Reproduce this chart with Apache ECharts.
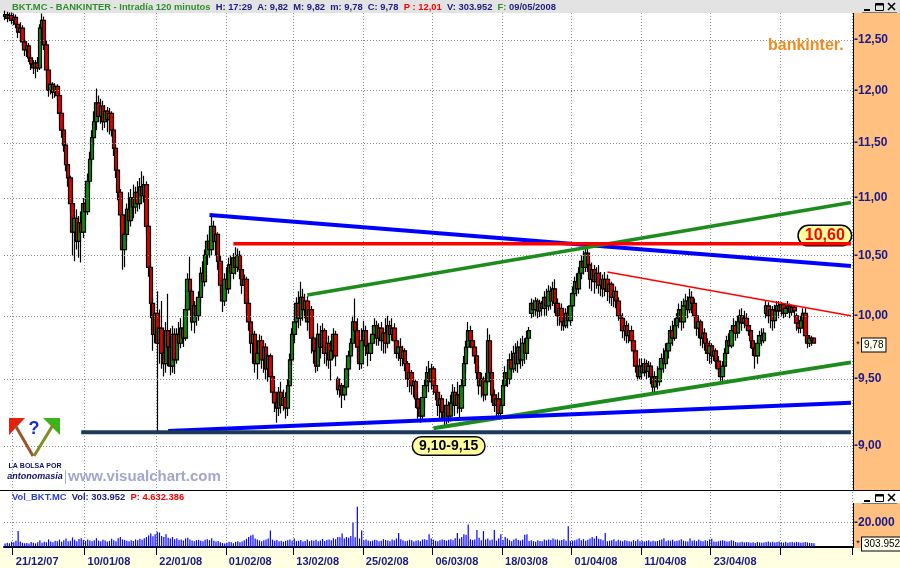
<!DOCTYPE html>
<html><head><meta charset="utf-8">
<script src="https://cdn.jsdelivr.net/npm/echarts@6/dist/echarts.min.js"></script>
<style>html,body{margin:0;padding:0;background:#fff}#c{width:900px;height:568px}</style>
</head><body><div id="c"></div><script>
// ---- data (OHLC: open, close, low, high) ----
const candles = [
[12.74,12.76,12.70,12.80],[12.76,12.72,12.68,12.79],[12.72,12.75,12.69,12.78],[12.75,12.70,12.66,12.78],[12.70,12.73,12.65,12.77],
[12.73,12.66,12.62,12.76],[12.66,12.58,12.52,12.70],[12.58,12.62,12.50,12.68],[12.62,12.48,12.44,12.65],[12.48,12.40,12.34,12.52],
[12.40,12.44,12.33,12.49],[12.44,12.32,12.28,12.47],[12.32,12.26,12.20,12.36],[12.26,12.22,12.16,12.30],[12.22,12.27,12.12,12.30],
[12.27,12.22,12.18,12.33],[12.22,12.62,12.20,12.66],[12.62,12.70,12.50,12.77],[12.70,12.45,12.40,12.74],[12.45,12.20,12.12,12.50],
[12.20,12.00,11.94,12.24],[12.00,12.06,11.96,12.10],[12.06,11.98,11.92,12.08],[11.98,12.04,11.93,12.07],[12.04,11.95,11.90,12.06],
[11.95,11.78,11.72,11.98],[11.78,11.62,11.55,11.82],[11.62,11.48,11.42,11.66],[11.48,11.30,11.24,11.52],[11.30,11.18,11.10,11.34],
[11.18,10.95,10.88,11.20],[10.95,10.70,10.50,10.98],[10.70,10.82,10.45,10.86],[10.82,10.62,10.55,10.90],[10.62,10.78,10.48,10.84],
[10.78,10.70,10.44,10.88],[10.70,10.95,10.65,11.00],[10.95,10.88,10.80,11.10],[10.88,11.15,10.85,11.22],[11.15,11.35,11.08,11.42],
[11.35,11.55,11.30,11.62],[11.55,11.70,11.48,11.80],[11.70,11.88,11.62,12.02],[11.88,11.75,11.70,11.95],[11.75,11.85,11.68,11.92],
[11.85,11.70,11.62,11.90],[11.70,11.80,11.64,11.86],[11.80,11.72,11.60,11.84],[11.72,11.78,11.58,11.83],[11.78,11.62,11.56,11.80],
[11.62,11.45,11.38,11.66],[11.45,11.25,11.18,11.48],[11.25,11.05,10.98,11.28],[11.05,10.85,10.75,11.08],[10.85,10.55,10.38,10.88],
[10.55,10.68,10.40,10.74],[10.68,10.90,10.62,10.95],[10.90,10.80,10.70,11.05],[10.80,11.00,10.75,11.08],[11.00,10.92,10.82,11.12],
[10.92,11.05,10.86,11.10],[11.05,10.95,10.88,11.15],[10.95,11.10,10.90,11.18],[11.10,11.02,10.95,11.24],[11.02,11.12,10.96,11.20],
[11.12,10.75,10.68,11.15],[10.75,10.40,10.32,10.78],[10.40,10.10,9.98,10.44],[10.10,9.85,9.72,10.15],[9.85,10.02,9.78,10.10],
[10.02,9.78,9.10,10.20],[9.78,9.90,9.62,10.05],[9.90,9.70,9.58,10.12],[9.70,9.62,9.52,9.85],[9.62,9.88,9.55,9.95],
[9.88,9.75,9.60,10.18],[9.75,9.60,9.53,9.90],[9.60,9.85,9.55,9.92],[9.85,9.65,9.54,9.90],[9.65,9.85,9.62,9.90],
[9.85,9.78,9.72,9.95],[9.78,9.90,9.74,9.98],[9.90,9.82,9.75,9.96],[9.82,10.05,9.80,10.10],[10.05,10.30,10.00,10.35],
[10.30,10.20,10.10,10.49],[10.20,9.95,9.88,10.22],[9.95,10.08,9.86,10.12],[10.08,10.00,9.92,10.15],[10.00,10.15,9.96,10.20],
[10.15,10.35,10.10,10.40],[10.35,10.28,10.20,10.45],[10.28,10.50,10.24,10.55],[10.50,10.62,10.42,10.68],[10.62,10.55,10.48,10.72],
[10.55,10.75,10.50,10.86],[10.75,10.62,10.55,10.80],[10.62,10.68,10.50,10.74],[10.68,10.45,10.38,10.70],[10.45,10.25,10.18,10.50],
[10.25,10.12,10.03,10.30],[10.12,10.30,10.08,10.35],[10.30,10.22,10.15,10.40],[10.22,10.42,10.18,10.48],[10.42,10.35,10.28,10.50],
[10.35,10.48,10.30,10.52],[10.48,10.40,10.34,10.57],[10.40,10.50,10.36,10.56],[10.50,10.38,10.30,10.54],[10.38,10.25,10.18,10.42],
[10.25,10.30,10.12,10.34],[10.30,10.10,10.02,10.32],[10.10,9.95,9.88,10.14],[9.95,9.78,9.70,9.98],[9.78,9.85,9.62,9.90],
[9.85,9.62,9.55,9.88],[9.62,9.70,9.50,9.75],[9.70,9.80,9.62,9.85],[9.80,9.65,9.58,9.84],[9.65,9.75,9.55,9.80],
[9.75,9.58,9.50,9.78],[9.58,9.68,9.48,9.72],[9.68,9.52,9.45,9.70],[9.52,9.40,9.34,9.56],[9.40,9.32,9.25,9.45],
[9.32,9.28,9.17,9.38],[9.28,9.40,9.22,9.44],[9.40,9.30,9.24,9.48],[9.30,9.36,9.26,9.42],[9.36,9.28,9.20,9.40],
[9.28,9.45,9.22,9.50],[9.45,9.65,9.40,9.70],[9.65,9.85,9.60,9.90],[9.85,9.95,9.78,10.05],[9.95,10.10,9.88,10.15],
[10.10,9.98,9.90,10.20],[9.98,10.15,9.92,10.28],[10.15,10.05,9.96,10.22],[10.05,10.12,9.98,10.18],[10.12,9.95,9.88,10.16],
[9.95,10.05,9.85,10.12],[10.05,9.82,9.70,10.08],[9.82,9.72,9.62,9.88],[9.72,9.60,9.55,9.80],[9.60,9.85,9.56,9.94],
[9.85,9.75,9.66,9.92],[9.75,9.88,9.70,9.94],[9.88,9.70,9.62,9.90],[9.70,9.78,9.60,9.85],[9.78,9.65,9.58,9.84],
[9.65,9.72,9.49,9.80],[9.72,9.85,9.66,9.90],[9.85,9.68,9.60,9.88],[9.50,9.42,9.38,9.52],[9.42,9.45,9.36,9.48],
[9.45,9.38,9.28,9.47],[9.38,9.44,9.34,9.46],[9.44,9.58,9.42,9.62],[9.58,9.68,9.52,9.72],[9.68,9.78,9.62,9.82],
[9.78,9.95,9.72,10.00],[9.95,9.88,9.80,10.14],[9.88,9.75,9.66,9.98],[9.75,9.62,9.57,9.85],[9.62,9.80,9.58,9.90],
[9.80,9.88,9.72,9.96],[9.88,9.76,9.68,9.92],[9.76,9.70,9.60,9.82],[9.70,9.78,9.64,9.84],[9.78,9.85,9.72,9.92],
[9.85,9.92,9.78,9.98],[9.92,9.82,9.76,9.96],[9.82,9.90,9.76,9.94],[9.90,9.80,9.72,9.95],[9.80,9.86,9.70,9.90],
[9.86,9.78,9.70,9.98],[9.78,9.92,9.74,10.00],[9.92,9.85,9.78,9.96],[9.85,9.90,9.80,9.98],[9.90,9.80,9.72,9.94],
[9.80,9.70,9.66,9.84],[9.70,9.75,9.64,9.80],[9.75,9.66,9.60,9.82],[9.66,9.72,9.60,9.76],[9.72,9.62,9.56,9.74],
[9.62,9.50,9.44,9.64],[9.50,9.55,9.40,9.58],[9.55,9.45,9.38,9.57],[9.45,9.48,9.36,9.52],[9.48,9.35,9.28,9.50],
[9.35,9.28,9.20,9.40],[9.28,9.22,9.17,9.34],[9.22,9.36,9.18,9.40],[9.36,9.45,9.30,9.50],[9.45,9.55,9.40,9.60],
[9.55,9.48,9.40,9.64],[9.48,9.58,9.42,9.62],[9.58,9.45,9.38,9.60],[9.45,9.40,9.34,9.52],[9.40,9.30,9.22,9.43],
[9.30,9.35,9.20,9.40],[9.35,9.25,9.19,9.38],[9.25,9.20,9.14,9.30],[9.20,9.30,9.16,9.35],[9.30,9.22,9.17,9.33],
[9.22,9.32,9.18,9.38],[9.32,9.40,9.25,9.46],[9.40,9.30,9.22,9.44],[9.30,9.38,9.24,9.48],[9.38,9.28,9.20,9.42],
[9.28,9.45,9.25,9.50],[9.45,9.62,9.42,9.68],[9.62,9.75,9.55,9.80],[9.75,9.88,9.70,9.95],[9.88,9.80,9.74,9.92],
[9.80,9.75,9.70,9.84],[9.75,9.68,9.62,9.80],[9.68,9.55,9.50,9.72],[9.55,9.45,9.38,9.60],[9.45,9.50,9.36,9.55],
[9.50,9.38,9.33,9.52],[9.38,9.48,9.34,9.55],[9.48,9.80,9.45,9.90],[9.80,9.55,9.48,9.85],[9.55,9.38,9.32,9.58],
[9.38,9.30,9.25,9.42],[9.30,9.35,9.22,9.38],[9.35,9.24,9.20,9.40],[9.24,9.30,9.20,9.34],[9.30,9.45,9.28,9.50],
[9.45,9.55,9.40,9.60],[9.55,9.50,9.44,9.62],[9.50,9.65,9.46,9.70],[9.65,9.58,9.52,9.72],[9.58,9.70,9.55,9.76],
[9.70,9.62,9.56,9.78],[9.62,9.75,9.55,9.80],[9.75,9.65,9.58,9.82],[9.65,9.78,9.60,9.84],[9.78,9.70,9.62,9.82],
[9.70,9.82,9.65,9.88],[9.82,9.88,9.76,9.91],[10.02,10.10,9.98,10.14],[10.10,10.05,9.99,10.13],[10.05,10.12,10.00,10.15],
[10.12,10.04,9.98,10.14],[10.04,10.10,9.99,10.13],[10.10,10.06,10.00,10.12],[10.06,10.15,10.00,10.20],[10.15,10.08,10.00,10.22],
[10.08,10.20,10.04,10.25],[10.20,10.12,10.05,10.24],[10.12,10.22,10.08,10.28],[10.22,10.10,10.02,10.30],[10.10,10.00,9.92,10.14],
[10.00,10.06,9.92,10.10],[10.06,9.95,9.88,10.10],[9.95,9.92,9.88,10.02],[9.92,10.02,9.90,10.06],[10.02,9.96,9.90,10.08],
[9.96,10.08,9.92,10.14],[10.08,10.18,10.04,10.24],[10.18,10.28,10.12,10.32],[10.28,10.22,10.16,10.35],[10.22,10.35,10.18,10.40],
[10.35,10.45,10.30,10.50],[10.45,10.40,10.34,10.54],[10.40,10.52,10.36,10.58],[10.52,10.42,10.36,10.56],[10.42,10.30,10.22,10.46],
[10.30,10.38,10.20,10.44],[10.38,10.28,10.18,10.42],[10.28,10.35,10.22,10.40],[10.35,10.25,10.18,10.42],[10.25,10.30,10.16,10.36],
[10.30,10.22,10.15,10.34],[10.22,10.30,10.16,10.36],[10.30,10.20,10.12,10.34],[10.20,10.26,10.10,10.30],[10.26,10.15,10.08,10.28],
[10.15,10.20,10.07,10.26],[10.20,10.12,10.06,10.24],[10.12,10.00,9.96,10.15],[10.00,9.98,9.92,10.06],[9.98,9.88,9.82,10.02],
[9.88,9.92,9.80,9.98],[9.92,9.84,9.78,9.96],[9.84,9.88,9.78,9.94],[9.88,9.80,9.74,9.92],[9.80,9.72,9.66,9.84],
[9.72,9.60,9.55,9.76],[9.60,9.52,9.49,9.65],[9.52,9.60,9.50,9.66],[9.60,9.55,9.50,9.66],[9.55,9.62,9.52,9.66],
[9.62,9.56,9.50,9.65],[9.56,9.60,9.51,9.64],[9.60,9.52,9.46,9.63],[9.52,9.44,9.39,9.58],[9.44,9.52,9.40,9.56],
[9.52,9.48,9.42,9.60],[9.48,9.58,9.45,9.64],[9.58,9.66,9.52,9.70],[9.66,9.62,9.55,9.74],[9.62,9.72,9.58,9.78],
[9.72,9.78,9.66,9.82],[9.78,9.88,9.74,9.92],[9.88,9.82,9.76,9.96],[9.82,9.92,9.80,9.98],[9.92,9.98,9.85,10.02],
[9.98,10.05,9.90,10.10],[10.05,9.95,9.88,10.12],[9.95,10.08,9.90,10.14],[10.08,10.12,10.00,10.18],[10.12,10.05,9.98,10.16],
[10.05,10.15,10.02,10.22],[10.15,10.10,10.02,10.20],[10.10,10.00,9.94,10.14],[10.00,9.90,9.84,10.04],[9.90,9.95,9.82,9.98],
[9.95,9.82,9.76,9.97],[9.82,9.86,9.74,9.90],[9.86,9.78,9.72,9.90],[9.78,9.70,9.64,9.82],[9.70,9.76,9.62,9.80],
[9.76,9.68,9.62,9.78],[9.68,9.72,9.64,9.76],[9.72,9.64,9.58,9.74],[9.64,9.58,9.54,9.68],[9.58,9.52,9.47,9.62],
[9.52,9.60,9.48,9.64],[9.60,9.70,9.55,9.74],[9.70,9.80,9.66,9.84],[9.80,9.76,9.70,9.86],[9.76,9.88,9.74,9.92],
[9.88,9.92,9.82,9.98],[9.92,9.86,9.80,9.96],[9.86,9.95,9.82,10.00],[9.95,10.00,9.90,10.05],[10.00,9.94,9.88,10.06],
[9.94,9.98,9.90,10.04],[9.98,9.92,9.88,10.02],[9.92,9.88,9.84,9.96],[9.88,9.80,9.74,9.90],[9.80,9.74,9.68,9.84],
[9.74,9.68,9.58,9.78],[9.68,9.78,9.62,9.82],[9.78,9.84,9.74,9.88],[9.84,9.80,9.76,9.90],[9.80,9.86,9.78,9.90],
[10.02,10.08,9.98,10.12],[10.08,10.00,9.94,10.11],[10.00,10.05,9.90,10.08],[10.05,9.96,9.88,10.08],[9.96,10.04,9.90,10.09],
[10.04,10.08,10.00,10.12],[10.08,10.04,9.98,10.12],[10.04,10.09,10.00,10.11],[10.09,10.02,9.98,10.10],[10.02,10.06,9.99,10.10],
[10.06,10.08,10.02,10.12],[10.08,10.03,9.98,10.10],[10.03,10.07,10.00,10.09],[10.07,10.04,10.00,10.08],[10.00,9.94,9.88,10.02],
[9.94,9.90,9.86,9.98],[9.90,9.96,9.86,10.00],[9.96,10.02,9.92,10.06],[10.02,9.84,9.80,10.06],[9.84,9.78,9.74,9.88],
[9.78,9.82,9.75,9.84],[9.82,9.80,9.76,9.84],[9.82,9.78,9.78,9.82]
];
// volume per bar, thousands of shares
const volumeK = [
280,350,300,420,380,520,1300,450,350,300, 320,280,400,350,300,380,560,350,420,380,
620,450,380,520,480,600,420,550,700,480, 520,780,600,480,650,720,580,500,620,540,
480,560,720,520,480,600,540,460,500,680, 560,480,720,820,620,580,520,480,560,500,
620,560,680,600,720,820,950,1100,880,1050, 1250,1180,900,820,1050,760,700,820,640,720,
580,620,540,700,760,620,540,480,560,600, 520,480,600,640,560,720,520,460,500,380,
320,280,350,420,380,300,420,480,380,440, 560,680,820,950,1000,700,620,540,480,560,
620,700,1350,600,520,580,480,520,440,500, 560,620,520,700,480,520,580,440,500,620,
480,560,520,600,480,540,660,500,580,620, 560,720,640,820,800,1100,700,820,760,900,
2000,800,3300,700,1350,560,620,540,480,520, 600,560,480,520,640,580,540,480,620,560,
700,1150,640,560,480,520,600,560,460,520, 560,480,620,640,580,1050,700,600,520,480,
560,620,580,520,600,640,560,720,1150,680, 820,1050,1000,1850,640,580,620,1400,760,560,
1300,620,700,560,620,1400,520,700,1050,580, 820,700,560,480,620,700,580,520,600,1000,
1050,500,560,480,420,560,500,480,620,540, 620,580,700,620,620,540,580,640,520,1700,
480,520,560,620,720,560,640,520,600,700, 820,700,900,680,640,560,1150,480,520,560,
640,480,600,520,480,560,520,480,440,560, 500,620,480,520,440,500,560,460,520,480,
500,560,620,720,480,560,520,600,480,520, 560,640,520,480,460,700,520,560,480,620,
520,480,560,500,620,680,460,420,480,520, 560,520,440,480,560,520,400,360,380,420,
360,400,380,340,380,320,420,380,340,360, 400,440,380,420,360,400,460,380,360,420,
340,380,400,360,420,380,340,360,400,380, 350,320,304
];
const tickIndex  = [4, 37, 70, 102, 133, 165, 197, 229, 261, 293, 325, 357];
const tickLabels = ['21/12/07','10/01/08','22/01/08','01/02/08','13/02/08','25/02/08','06/03/08','18/03/08','01/04/08','11/04/08','23/04/08',''];
const categoryCount = 390;
const priceTicks = [9, 9.5, 10, 10.5, 11, 11.5, 12, 12.5];
const volumeTicks = [2000];
// trend lines: [barIndex, price]
const lineBlueUpper  = [[94, 10.85], [389, 10.41]];
const lineRed1060    = [[105, 10.60], [389, 10.60]];
const lineGreenUpper = [[139, 10.17], [389, 10.96]];
const lineRedThin    = [[277, 10.36], [389, 10.00]];
const lineGreenLower = [[197, 9.13], [389, 9.63]];
const lineBlueLower  = [[75, 9.11], [389, 9.32]];
const lineNavy910    = [[35, 9.10], [389, 9.10]];
const label1060 = {coord: [377, 10.67], text: '10,60'};
const label910  = {coord: [204, 9.00], text: '9,10-9,15'};

// ---- chart ----
const FONT = '"Liberation Sans", Arial, sans-serif';
const NAVY = '#1a1a8c';
const categories = Array.from({length: categoryCount}, (_, i) => String(i));
const tickSet = new Set(tickIndex);
const tickInterval = (idx) => tickSet.has(idx);
const tickFormatter = (v, idx) => { const k = tickIndex.indexOf(idx); return k >= 0 ? tickLabels[k] : ''; };
const fmtPrice = v => v.toFixed(2).replace('.', ',');
const fmtVol = v => (v * 10).toLocaleString('de-DE');

function trend(data, color, width, extra) {
  return Object.assign({
    type: 'line', xAxisIndex: 0, yAxisIndex: 0, data: data, symbol: 'none', silent: true, z: 5,
    lineStyle: {color: color, width: width}
  }, extra || {});
}
function pill(lbl, color, size) {
  return {
    symbol: 'circle', symbolSize: 1, itemStyle: {color: 'rgba(0,0,0,0)'}, silent: true,
    label: {show: true, position: 'inside', color: color, fontWeight: 'bold', fontSize: size, fontFamily: FONT,
      backgroundColor: '#FFFF99', borderColor: '#000', borderWidth: 1.5, borderRadius: 10, padding: [2, 6, 1, 6]},
    data: [{coord: lbl.coord, value: lbl.text, label: {formatter: lbl.text}}]
  };
}
const gridLineStyle = {color: '#8c8c8c', type: [1, 2], width: 1};
const axisLabelStyle = {color: NAVY, fontWeight: 'bold', fontSize: 12, fontFamily: FONT};

const chart = echarts.init(document.getElementById('c'), null, {renderer: 'canvas'});
function btns(y) {
  return [
    {type: 'line', shape: {x1: 864, y1: y + 8, x2: 870, y2: y + 8}, style: {stroke: '#000', lineWidth: 2}, z: 50},
    {type: 'rect', shape: {x: 875.5, y: y + 1.5, width: 8, height: 7}, style: {fill: 'none', stroke: '#000', lineWidth: 1}, z: 50},
    {type: 'line', shape: {x1: 876, y1: y + 2.5, x2: 883, y2: y + 2.5}, style: {stroke: '#000', lineWidth: 2}, z: 50},
    {type: 'line', shape: {x1: 888, y1: y + 1, x2: 895, y2: y + 8}, style: {stroke: '#000', lineWidth: 1.6}, z: 50},
    {type: 'line', shape: {x1: 895, y1: y + 1, x2: 888, y2: y + 8}, style: {stroke: '#000', lineWidth: 1.6}, z: 50},
    {type: 'line', shape: {x1: 862, y1: y + 10.5, x2: 897, y2: y + 10.5}, style: {stroke: '#777', lineWidth: 1}, z: 50}
  ];
}
const txtFont = 'bold 9.4px ' + FONT;
const graphics = [
  {type: 'rect', shape: {x: 0, y: 0, width: 900, height: 13}, style: {fill: '#E3E3E3'}, z: -1},
  {type: 'rect', shape: {x: 853, y: 13, width: 47, height: 477}, style: {fill: '#FFC080'}, z: -1},
  {type: 'rect', shape: {x: 853, y: 503, width: 47, height: 45}, style: {fill: '#FFC080'}, z: -1},
  {type: 'rect', shape: {x: 0, y: 548, width: 900, height: 20}, style: {fill: '#FFFFE1'}, z: -1},
  {type: 'line', shape: {x1: 853.5, y1: 13, x2: 853.5, y2: 490}, style: {stroke: '#000', lineWidth: 1}, z: 40},
  {type: 'line', shape: {x1: 853.5, y1: 503, x2: 853.5, y2: 548}, style: {stroke: '#000', lineWidth: 1}, z: 40},
  {type: 'line', shape: {x1: 0, y1: 490.5, x2: 900, y2: 490.5}, style: {stroke: '#000', lineWidth: 1}, z: 40},
  {type: 'text', x: 12, y: 7, z: 50, style: {
    text: '{g|BKT.MC - BANKINTER - Intradía 120 minutos}  {b|H: 17:29  A: 9,82  M: 9,82  m: 9,78  C: 9,78}  {r|P : 12,01}  {b|V: 303.952}  {g|F:} {b|09/05/2008}',
    textVerticalAlign: 'middle', font: txtFont,
    rich: {g: {fill: '#2F8F2F', font: txtFont}, b: {fill: '#202080', font: txtFont}, r: {fill: '#FF0000', font: txtFont}}}},
  {type: 'text', x: 12, y: 497, z: 50, style: {
    text: '{v|Vol_BKT.MC}  {b|Vol: 303.952}  {r|P: 4.632.386}', textVerticalAlign: 'middle', font: txtFont,
    rich: {v: {fill: '#2B3FD0', font: txtFont}, b: {fill: '#202080', font: txtFont}, r: {fill: '#FF0000', font: txtFont}}}},
  {type: 'text', x: 768, y: 46, z: 50, style: {text: 'bankinter.', font: 'bold 16px ' + FONT, fill: '#F28A1E', textVerticalAlign: 'middle'}},
  // logo
  {type: 'polygon', shape: {points: [[9, 418], [25, 418], [9, 435]]}, style: {fill: '#E81E0E'}, z: 30},
  {type: 'polygon', shape: {points: [[43, 418], [60, 418], [60, 435]]}, style: {fill: '#3BB31A'}, z: 30},
  {type: 'line', shape: {x1: 15, y1: 425, x2: 33, y2: 456}, style: {stroke: '#A0522D', lineWidth: 3}, z: 30},
  {type: 'line', shape: {x1: 53, y1: 425, x2: 34, y2: 456}, style: {stroke: '#7C8E23', lineWidth: 3}, z: 30},
  {type: 'text', x: 34, y: 429, z: 31, style: {text: '?', font: 'bold 18px ' + FONT, fill: '#1A2BD8', textAlign: 'center', textVerticalAlign: 'middle'}},
  {type: 'text', x: 35, y: 466, z: 30, style: {text: 'LA BOLSA POR', font: 'bold 7px ' + FONT, fill: '#10106E', textAlign: 'center', textVerticalAlign: 'middle'}},
  {type: 'text', x: 35, y: 477, z: 30, style: {text: 'antonomasia', font: 'italic bold 9px ' + FONT, fill: '#10106E', textAlign: 'center', textVerticalAlign: 'middle'}},
  {type: 'line', shape: {x1: 65.5, y1: 470, x2: 65.5, y2: 484}, style: {stroke: '#B0B0B0', lineWidth: 1}, z: 30},
  {type: 'text', x: 68, y: 477, z: 30, style: {text: 'www.visualchart.com', font: 'bold 15px ' + FONT, fill: '#A3A6CF', textVerticalAlign: 'middle'}},
  // last value tags
  {type: 'text', x: 858, y: 345, z: 50, style: {text: '*', font: '9px ' + FONT, fill: '#000', textAlign: 'center', textVerticalAlign: 'middle'}},
  {type: 'text', x: 862, y: 345, z: 50, style: {text: '9,78', font: '10px ' + FONT, fill: '#000', textVerticalAlign: 'middle',
    backgroundColor: '#FFFFF0', borderColor: '#000', borderWidth: 1, padding: [2, 2, 1, 2]}},
  {type: 'text', x: 858, y: 544, z: 50, style: {text: '*', font: '9px ' + FONT, fill: '#000', textAlign: 'center', textVerticalAlign: 'middle'}},
  {type: 'text', x: 862, y: 544, z: 50, style: {text: '303.952', font: '10px ' + FONT, fill: '#000', textVerticalAlign: 'middle',
    backgroundColor: '#FFFFF0', borderColor: '#000', borderWidth: 1, padding: [2, 2, 1, 2]}}
].concat(btns(2), btns(493));

const option = {
  animation: false,
  backgroundColor: '#ffffff',
  grid: [
    {left: 4, right: 48, top: 13, height: 477},
    {left: 4, right: 48, top: 492, height: 55}
  ],
  xAxis: [
    {type: 'category', gridIndex: 0, data: categories, boundaryGap: true,
      axisLine: {show: false}, axisTick: {show: false}, axisLabel: {show: false},
      splitLine: {show: true, interval: tickInterval, lineStyle: gridLineStyle}},
    {type: 'category', gridIndex: 1, data: categories, boundaryGap: true,
      axisLine: {show: true, lineStyle: {color: '#000', width: 2}},
      axisTick: {show: true, interval: tickInterval, length: 8, lineStyle: {color: '#000', width: 1}},
      axisLabel: {show: true, interval: tickInterval, formatter: tickFormatter, align: 'left', margin: 9,
        color: NAVY, fontWeight: 'bold', fontSize: 11, fontFamily: FONT, padding: [0, 0, 0, 2]},
      splitLine: {show: true, interval: tickInterval, lineStyle: gridLineStyle}}
  ],
  yAxis: [
    {type: 'log', logBase: 10, gridIndex: 0, min: 8.685, max: 12.776, position: 'right',
      axisLine: {show: false}, axisTick: {show: false}, axisLabel: {show: false}, splitLine: {show: false}},
    {type: 'value', gridIndex: 1, min: 0, max: 4500, position: 'right',
      axisLine: {show: false}, axisTick: {show: false}, axisLabel: {show: false}, splitLine: {show: false}}
  ],
  series: [
    {type: 'line', xAxisIndex: 0, yAxisIndex: 0, data: [], silent: true, z: 1,
      markLine: {symbol: ['none', 'none'], silent: true, animation: false, lineStyle: gridLineStyle,
        label: Object.assign({position: 'end', distance: 2, formatter: p => '-' + fmtPrice(p.value)}, axisLabelStyle),
        emphasis: {disabled: true},
        data: priceTicks.map(v => ({yAxis: v}))}},
    {type: 'candlestick', xAxisIndex: 0, yAxisIndex: 0, data: candles, barWidth: 4, z: 3, silent: true,
      itemStyle: {color: '#0E8A0E', color0: '#E00000', borderColor: '#000', borderColor0: '#000', borderWidth: 1.2}},
    trend(lineBlueUpper, '#0000FF', 4),
    trend(lineGreenUpper, '#1C8C1C', 3.5),
    trend(lineRed1060, '#FF0000', 3.5, {markPoint: pill(label1060, '#FF0000', 16)}),
    trend(lineRedThin, '#FF0000', 1.5),
    trend(lineGreenLower, '#1C8C1C', 4),
    trend(lineBlueLower, '#0000FF', 4),
    trend(lineNavy910, '#1B3A5C', 4, {markPoint: pill(label910, '#000', 14)}),
    {type: 'bar', xAxisIndex: 1, yAxisIndex: 1, data: volumeK, barWidth: 1.2, silent: true, z: 3,
      itemStyle: {color: '#0000FF'}},
    {type: 'line', xAxisIndex: 1, yAxisIndex: 1, data: [], silent: true, z: 1,
      markLine: {symbol: ['none', 'none'], silent: true, animation: false, lineStyle: gridLineStyle,
        label: Object.assign({position: 'end', distance: 2, formatter: p => '-' + fmtVol(p.value)}, axisLabelStyle),
        emphasis: {disabled: true},
        data: volumeTicks.map(v => ({yAxis: v}))}}
  ],
  graphic: graphics
};
chart.setOption(option);
</script></body></html>
